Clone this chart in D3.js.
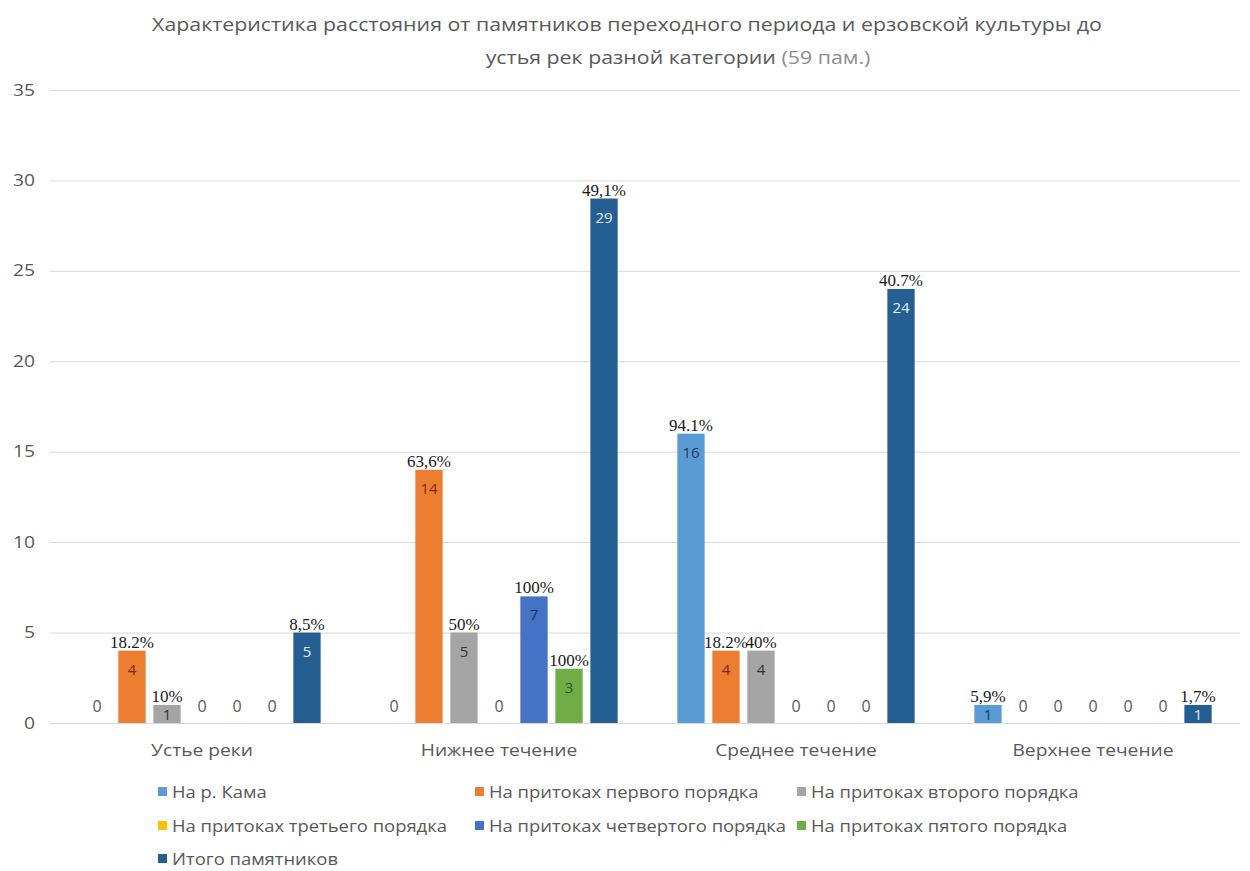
<!DOCTYPE html>
<html>
<head>
<meta charset="utf-8">
<script src="https://cdn.jsdelivr.net/npm/d3@7"></script>
<style>
  body { margin: 0; background: #fff; }
  svg { display: block; }
  text { font-family: "Open Sans", sans-serif; }
</style>
</head>
<body>
<svg width="1250" height="871"></svg>
<script>
(() => {

    // data
    const categories = ['Устье реки', 'Нижнее течение', 'Среднее течение', 'Верхнее течение'];
    const seriesNames = [
        'На р. Кама',
        'На притоках первого порядка',
        'На притоках второго порядка',
        'На притоках третьего порядка',
        'На притоках четвертого порядка',
        'На притоках пятого порядка',
        'Итого памятников'
    ];
    const kama = [0, 0, 16, 1];
    const first = [4, 14, 4, 0];
    const second = [1, 5, 4, 0];
    const third = [0, 0, 0, 0];
    const fourth = [0, 7, 0, 0];
    const fifth = [0, 3, 0, 0];
    const total = [5, 29, 24, 1];
    const kamaPct = ['', '', '94.1%', '5,9%'];
    const firstPct = ['18.2%', '63,6%', '18.2%', ''];
    const secondPct = ['10%', '50%', '40%', ''];
    const thirdPct = ['', '', '', ''];
    const fourthPct = ['', '100%', '', ''];
    const fifthPct = ['', '100%', '', ''];
    const totalPct = ['8,5%', '49,1%', '40.7%', '1,7%'];
    const yTicks = [0, 5, 10, 15, 20, 25, 30, 35];

    const seriesValues = [kama, first, second, third, fourth, fifth, total];
    const seriesPct = [kamaPct, firstPct, secondPct, thirdPct, fourthPct, fifthPct, totalPct];
    const colors = ['#5b9bd5', '#ed7d31', '#a5a5a5', '#ffc000', '#4472c4', '#70ad47', '#255e91'];
    const innerColors = ['#1f3864', '#7b2a0a', '#333333', '#7f6000', '#1f2f66', '#375623', '#e2eefa'];

    const rows = categories.map((c, ci) => ({
        cat: c,
        bars: seriesNames.map((s, si) => ({ s: si, v: seriesValues[si][ci], pct: seriesPct[si][ci] }))
    }));

    const svg = d3.select('svg');
    const stretch = k => sel => sel.each(function () {
        const w = this.getComputedTextLength();
        this.setAttribute('textLength', w * k);
        this.setAttribute('lengthAdjust', 'spacingAndGlyphs');
    });

    // scales
    const y = d3.scaleLinear().domain([0, 35]).range([723, 90]);
    const x0 = d3.scaleBand().domain(categories).range([53.5, 1241.5])
        .paddingInner(0.175).paddingOuter(0.0875);
    const x1 = d3.scaleBand().domain(d3.range(seriesNames.length)).range([0, x0.bandwidth()])
        .paddingInner(0.22).paddingOuter(0.11);

    // title
    const title = svg.append('g').attr('class', 'title')
        .style('font-size', '18px').style('fill', '#595959');
    title.append('text').attr('x', 627).attr('y', 31).attr('text-anchor', 'middle')
        .text('Характеристика расстояния от памятников переходного периода и ерзовской культуры до');
    const t2 = title.append('text').attr('x', 678).attr('y', 64).attr('text-anchor', 'middle');
    t2.append('tspan').text('устья рек разной категории ');
    t2.append('tspan').style('fill', '#8c8c8c').text('(59 пам.)');
    title.selectAll('text').call(stretch(1.185));

    // grid + y axis
    const yAxis = svg.append('g')
        .attr('transform', 'translate(50,0)')
        .call(d3.axisLeft(y).tickValues(yTicks).tickSize(-1190).tickPadding(15));
    yAxis.select('.domain').remove();
    yAxis.selectAll('.tick line').attr('stroke', '#d9d9d9');
    yAxis.selectAll('.tick text')
        .style('font-family', '"Open Sans", sans-serif')
        .style('font-size', '16px').attr('fill', '#595959')
        .call(stretch(1.2));

    // x axis
    const xAxis = svg.append('g')
        .attr('transform', `translate(0,${y(0)})`)
        .call(d3.axisBottom(x0).tickSize(0).tickPadding(22));
    xAxis.select('.domain').remove();
    xAxis.selectAll('.tick text')
        .style('font-family', '"Open Sans", sans-serif')
        .style('font-size', '16px').attr('fill', '#595959')
        .call(stretch(1.2));

    // bars
    const groups = svg.append('g').selectAll('g')
        .data(rows)
        .enter()
        .append('g')
        .attr('transform', d => `translate(${x0(d.cat)},0)`);

    const bar = groups.selectAll('g.bar')
        .data(d => d.bars)
        .enter()
        .append('g')
        .attr('class', 'bar');

    bar.filter(d => d.v > 0).append('rect')
        .attr('x', d => x1(d.s))
        .attr('y', d => y(d.v))
        .attr('width', x1.bandwidth())
        .attr('height', d => y(0) - y(d.v))
        .attr('fill', d => colors[d.s]);

    // value inside bar
    bar.filter(d => d.v > 0).append('text')
        .attr('x', d => x1(d.s) + x1.bandwidth() / 2)
        .attr('y', d => Math.min(y(d.v) + 24, y(0) - 3))
        .attr('text-anchor', 'middle')
        .style('font-size', '15px')
        .attr('fill', d => innerColors[d.s])
        .text(d => d.v);

    // percent above bar
    bar.filter(d => d.pct !== '').append('text')
        .attr('x', d => x1(d.s) + x1.bandwidth() / 2)
        .attr('y', d => y(d.v) - 3)
        .attr('text-anchor', 'middle')
        .style('font-family', '"Liberation Serif", "Times New Roman", serif')
        .style('font-size', '17px')
        .attr('fill', '#1a1a1a')
        .text(d => d.pct);

    // zero labels
    bar.filter(d => d.v === 0).append('text')
        .attr('x', d => x1(d.s) + x1.bandwidth() / 2)
        .attr('y', y(0) - 11)
        .attr('text-anchor', 'middle')
        .style('font-size', '16px')
        .attr('fill', '#595959')
        .text('0');

    // legend
    const legCols = [158, 475, 797];
    const legRows = [792, 826, 859];
    const leg = svg.append('g').selectAll('g')
        .data(seriesNames)
        .enter()
        .append('g')
        .attr('transform', (d, i) => `translate(${legCols[i % 3]},${legRows[Math.floor(i / 3)]})`);
    leg.append('rect')
        .attr('x', 0).attr('y', -5)
        .attr('width', 9).attr('height', 9)
        .attr('fill', (d, i) => colors[i]);
    leg.append('text')
        .attr('x', 14).attr('dy', '0.35em')
        .style('font-size', '16px')
        .attr('fill', '#595959')
        .text(d => d)
        .call(stretch(1.15));

})();
</script>
</body>
</html>
